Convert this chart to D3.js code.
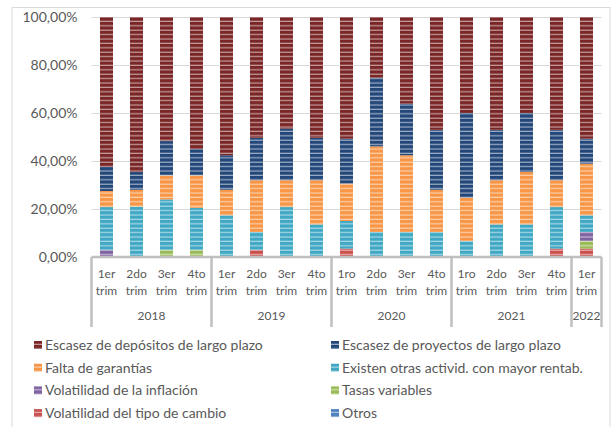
<!DOCTYPE html>
<html>
<head>
<meta charset="utf-8">
<script src="https://cdn.jsdelivr.net/npm/d3@7"></script>
<style>
  body { margin: 0; background: #fff; }
  text { font-family: Lato, "Open Sans", sans-serif; fill: #595959; }
</style>
</head>
<body>
<svg id="chart" width="614" height="427"></svg>
<script>
// quarters and years (multi level axis)
const trims = ["1er", "2do", "3er", "4to", "1er", "2do", "3er", "4to", "1ro", "2do", "3er", "4to", "1ro", "2do", "3er", "4to", "1er"];
const years = ["2018", "2019", "2020", "2021", "2022"];
const quartersPerYear = [4, 4, 4, 4, 1];

// series values, in % of answers
const depositos  = [62.5, 64.6, 51.7, 55.0, 57.6, 50.3, 46.5, 50.3, 50.7, 25.3, 36.1, 47.0, 40.0, 47.0, 40.0, 47.0, 50.7];
const proyectos  = [10.0, 7.4, 14.3, 11.0, 14.4, 17.7, 21.5, 17.7, 18.7, 28.6, 21.5, 25.0, 35.3, 21.0, 24.6, 21.0, 10.4];
const garantias  = [6.7, 7.0, 10.0, 13.5, 10.6, 21.6, 11.2, 18.4, 15.6, 35.7, 32.0, 17.6, 18.0, 18.4, 21.8, 11.2, 21.5];
const existen    = [17.8, 21.0, 21.0, 17.5, 17.4, 7.4, 20.8, 13.6, 11.5, 10.4, 10.4, 10.4, 6.7, 13.6, 13.6, 17.3, 7.0];
const inflacion  = [3.0, 0, 0, 0, 0, 0, 0, 0, 0, 0, 0, 0, 0, 0, 0, 0, 3.7];
const tasas      = [0, 0, 3.0, 3.0, 0, 0, 0, 0, 0, 0, 0, 0, 0, 0, 0, 0, 3.2];
const tipoCambio = [0, 0, 0, 0, 0, 3.0, 0, 0, 3.5, 0, 0, 0, 0, 0, 0, 3.5, 3.5];
const otros      = [0, 0, 0, 0, 0, 0, 0, 0, 0, 0, 0, 0, 0, 0, 0, 0, 0];

const yTicks = [0, 20, 40, 60, 80, 100];

// stacking order, bottom to top
const series = [
    { key: "otros", name: "Otros", values: otros, color: "#4f81bd" },
    { key: "tipoCambio", name: "Volatilidad del tipo de cambio", values: tipoCambio, color: "#c9504d" },
    { key: "tasas", name: "Tasas variables", values: tasas, color: "#9bbb59" },
    { key: "inflacion", name: "Volatilidad de la inflación", values: inflacion, color: "#8064a2" },
    { key: "existen", name: "Existen otras activid. con mayor rentab.", values: existen, color: "#40a8c4" },
    { key: "garantias", name: "Falta de garantías", values: garantias, color: "#f79646" },
    { key: "proyectos", name: "Escasez de proyectos de largo plazo", values: proyectos, color: "#24477a" },
    { key: "depositos", name: "Escasez de depósitos de largo plazo", values: depositos, color: "#7a2626" }
];
const legendOrder = ["depositos", "proyectos", "garantias", "existen", "inflacion", "tasas", "tipoCambio", "otros"];

const svg = d3.select("#chart");
const plot = { left: 91.5, right: 601.5, top: 17, bottom: 257 };

// outer border of the chart
svg.append("rect")
    .attr("x", 12).attr("y", 7.5)
    .attr("width", 598).attr("height", 440)
    .attr("fill", "none")
    .attr("stroke", "#d9d9d9");

// striped fills
const defs = svg.append("defs");
series.forEach(s => {
    const p = defs.append("pattern")
        .attr("id", "pat-" + s.key)
        .attr("patternUnits", "userSpaceOnUse")
        .attr("width", 8).attr("height", 4.4);
    p.append("rect").attr("width", 8).attr("height", 4.4).attr("fill", s.color);
    p.append("rect").attr("y", 3.2).attr("width", 8).attr("height", 1.2)
        .attr("fill", "#fff").attr("opacity", 0.55);
});

const idx = d3.range(trims.length);
const x = d3.scaleBand()
    .domain(idx)
    .range([plot.left, plot.right])
    .paddingInner(0.567)
    .paddingOuter(0.2835);

const y = d3.scaleLinear()
    .domain([0, 100])
    .range([plot.bottom, plot.top]);

// gridlines + y labels
const yAxis = d3.axisLeft(y)
    .tickValues(yTicks)
    .tickSize(-(plot.right - plot.left))
    .tickPadding(14)
    .tickFormat(d => d3.format(".2f")(d).replace(".", ",") + "%");

svg.append("g")
    .attr("transform", `translate(${plot.left},0)`)
    .call(yAxis)
    .call(g => g.select(".domain").remove())
    .call(g => g.selectAll(".tick line").attr("stroke", "#d9d9d9"))
    .call(g => g.selectAll(".tick text")
        .attr("fill", "#595959")
        .style("font-size", "14px"));

// bars
const rows = idx.map(i => {
    const r = { i: i };
    series.forEach(s => r[s.key] = s.values[i]);
    return r;
});
const stacked = d3.stack().keys(series.map(s => s.key))(rows);

svg.append("g")
    .selectAll("g")
    .data(stacked)
    .join("g")
    .attr("fill", d => "url(#pat-" + d.key + ")")
    .selectAll("rect")
    .data(d => d)
    .join("rect")
    .attr("x", d => x(d.data.i))
    .attr("width", x.bandwidth())
    .attr("y", d => y(d[1]))
    .attr("height", d => y(d[0]) - y(d[1]));

// category axis
const axisColor = "#bfbfbf";
svg.append("line")
    .attr("x1", plot.left).attr("x2", plot.right)
    .attr("y1", plot.bottom).attr("y2", plot.bottom)
    .attr("stroke", axisColor).attr("stroke-width", 2.5);

const groupStarts = [0];
quartersPerYear.forEach((n, k) => groupStarts.push(groupStarts[k] + n));
const step = x.step();
const sepX = groupStarts.map(s => plot.left + s * step);

svg.append("g")
    .selectAll("line")
    .data(sepX)
    .join("line")
    .attr("x1", d => d).attr("x2", d => d)
    .attr("y1", plot.bottom).attr("y2", 327)
    .attr("stroke", axisColor).attr("stroke-width", 2.5);

const catLabels = svg.append("g")
    .selectAll("text")
    .data(idx)
    .join("text")
    .attr("x", i => x(i) + x.bandwidth() / 2)
    .attr("text-anchor", "middle")
    .style("font-size", "12px");
catLabels.append("tspan")
    .attr("x", i => x(i) + x.bandwidth() / 2)
    .attr("y", 278)
    .text(i => trims[i]);
catLabels.append("tspan")
    .attr("x", i => x(i) + x.bandwidth() / 2)
    .attr("y", 295)
    .text("trim");

svg.append("g")
    .selectAll("text")
    .data(years)
    .join("text")
    .attr("x", (d, k) => (sepX[k] + sepX[k + 1]) / 2)
    .attr("y", 320)
    .attr("text-anchor", "middle")
    .style("font-size", "12px")
    .text(d => d);

// legend
const legend = svg.append("g")
    .selectAll("g")
    .data(legendOrder.map(k => series.find(s => s.key === k)))
    .join("g")
    .attr("transform", (d, k) => `translate(${k % 2 === 0 ? 34 : 331},${345 + Math.floor(k / 2) * 22.7})`);

legend.append("rect")
    .attr("x", 0).attr("y", -4)
    .attr("width", 8).attr("height", 8)
    .attr("fill", d => "url(#pat-" + d.key + ")");

legend.append("text")
    .attr("x", 11)
    .attr("dy", "0.35em")
    .style("font-size", "14px")
    .text(d => d.name);
</script>
</body>
</html>
